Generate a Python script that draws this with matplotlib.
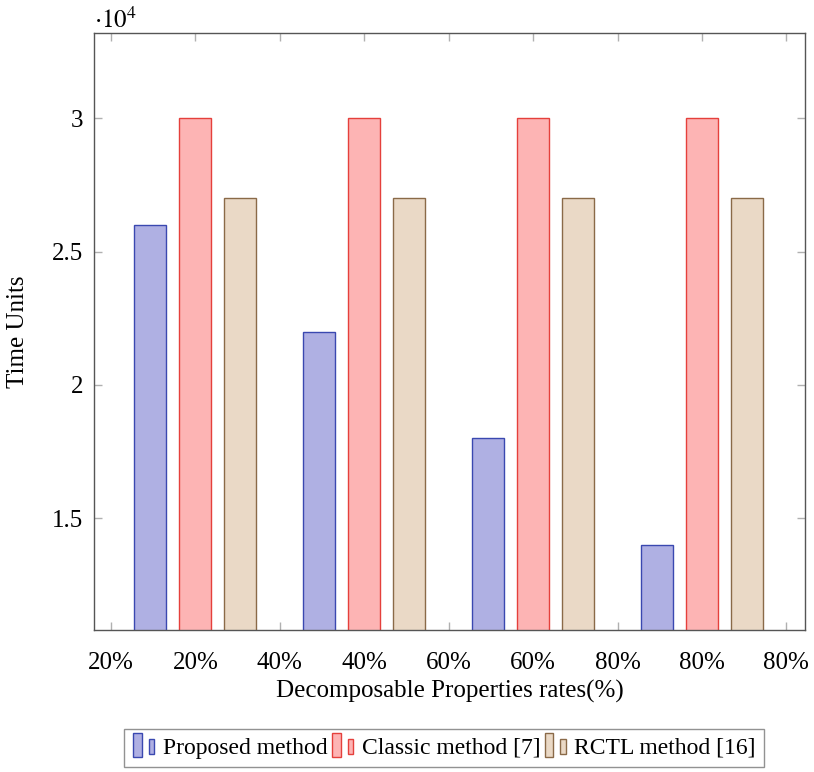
import matplotlib
matplotlib.use("Agg")
import matplotlib.pyplot as plt
import numpy as np
from matplotlib.patches import Rectangle
from matplotlib.legend_handler import HandlerBase
from matplotlib.ticker import FuncFormatter

plt.rcParams['font.family'] = ['Liberation Serif', 'DejaVu Serif']
plt.rcParams['mathtext.fontset'] = 'stix'

groups = [1, 2, 3, 4]
proposed = [26000, 22000, 18000, 14000]
classic = [30000, 30000, 30000, 30000]
rctl = [27000, 27000, 27000, 27000]
series_names = ["Proposed method", "Classic method [7]", "RCTL method [16]"]
tick_pos = [0.5, 1, 1.5, 2, 2.5, 3, 3.5, 4, 4.5]
tick_labels = ["20%", "20%", "40%", "40%", "60%", "60%", "80%", "80%", "80%"]

fills = ["#afb0e3", "#fdb4b4", "#ead9c6"]
edges = ["#3a48b0", "#e5403c", "#8a6a48"]

FS = 18

fig = plt.figure(figsize=(8.14, 7.72), dpi=100)
ax = fig.add_axes([94/814, 1-630/772, (805-94)/814, (630-33)/772])

w = 0.19
off = 0.267
x = np.array(groups, dtype=float)
handles = []
for i, vals in enumerate([proposed, classic, rctl]):
    b = ax.bar(x + (i-1)*off, vals, width=w, color=fills[i], edgecolor=edges[i],
               linewidth=1.0, label=series_names[i], zorder=2)
    handles.append(b)

ax.set_xlim(0.40, 4.61)
ax.set_ylim(10800, 33200)
ax.set_xticks(tick_pos)
ax.set_xticklabels(tick_labels)
ax.set_yticks([15000, 20000, 25000, 30000])
ax.yaxis.set_major_formatter(FuncFormatter(lambda v, p: f"{v/1e4:g}"))
ax.tick_params(axis='both', direction='in', length=6, width=1, color='#b0b0b0',
               labelsize=FS, top=True, right=True)
ax.tick_params(axis='x', pad=16)
ax.tick_params(axis='y', pad=8)
for s in ax.spines.values():
    s.set_color('#555555')
    s.set_linewidth(1.0)

ax.set_xlabel("Decomposable Properties rates(%)", fontsize=FS, labelpad=4)
ax.set_ylabel("Time Units", fontsize=FS, labelpad=16)
ax.text(0.0, 1.0, r"$\cdot10^4$", transform=ax.transAxes, fontsize=FS,
        ha='left', va='bottom')

class DoubleBar(HandlerBase):
    def create_artists(self, legend, orig_handle, xdescent, ydescent, width, height, fontsize, trans):
        p = orig_handle.patches[0]
        fc = p.get_facecolor(); ec = p.get_edgecolor()
        r1 = Rectangle((-xdescent + 1, -ydescent - 2), 6, height + 5, facecolor=fc, edgecolor=ec, lw=1.0, transform=trans)
        r2 = Rectangle((-xdescent + 12, -ydescent + 0), 4, height - 1, facecolor=fc, edgecolor=ec, lw=1.0, transform=trans)
        return [r1, r2]

leg = fig.legend(handles=handles, labels=series_names, loc='center', bbox_to_anchor=(444/814, 1-748/772),
                 ncol=3, fontsize=17, frameon=True, fancybox=False, edgecolor='#777777',
                 handler_map={type(handles[0]): DoubleBar()}, handlelength=1.0, handletextpad=0.3,
                 columnspacing=0.15, borderpad=0.35, borderaxespad=0)
leg.get_frame().set_linewidth(1.0)

fig.savefig("out.png", dpi=100)
